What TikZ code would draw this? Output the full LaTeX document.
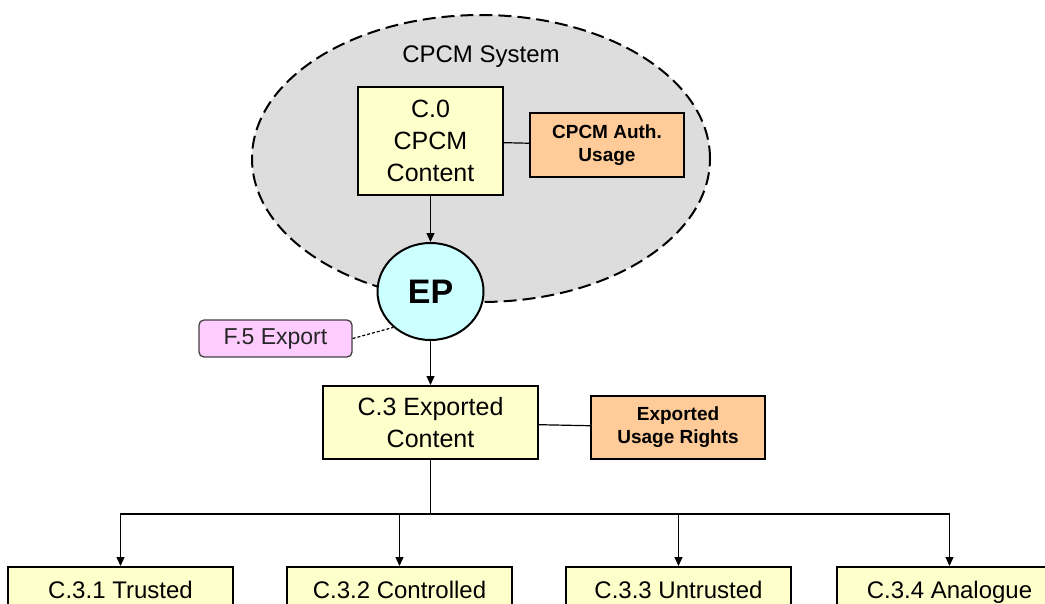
\documentclass[tikz,border=0pt]{standalone}
\usepackage{fontspec}
\setmainfont{Liberation Sans}
\usepackage{tikz}
\usetikzlibrary{arrows.meta,positioning,calc,shapes.geometric}
\definecolor{cpgrey}{HTML}{DDDDDD}
\definecolor{cpyellow}{HTML}{FFFFCC}
\definecolor{cporange}{HTML}{FFCC99}
\definecolor{cpcyan}{HTML}{CCFFFF}
\definecolor{cppink}{HTML}{FFCCFF}
\begin{document}
\begin{tikzpicture}[x=1pt,y=-1pt,
      box/.style={draw,line width=2pt,fill=cpyellow,align=center,inner sep=0pt,
                  font=\fontsize{25}{32}\selectfont},
      tag/.style={draw,line width=2pt,fill=cporange,align=center,inner sep=0pt,
                  font=\bfseries\fontsize{19}{23}\selectfont},
      leaf/.style={box,minimum width=225pt,minimum height=50pt,text height=17pt,
                   text depth=5pt,font=\fontsize{24}{28}\selectfont},
      link/.style={line width=1.2pt},
      arr/.style={link,-{Triangle[length=9pt,width=8pt]}}]
    \useasboundingbox (0,0) rectangle (1045,603);
    \clip (0,0) rectangle (1045,603);
    \node[ellipse,draw,line width=2pt,dash pattern=on 13pt off 6pt,fill=cpgrey,
          minimum width=458pt,minimum height=287pt] (sys) at (481,158.5) {};
    \node[below=32pt of sys.north,inner sep=0pt,font=\fontsize{24}{28}\selectfont] (title) {CPCM System};
    \node[box,minimum width=145pt,minimum height=108pt] (c0) at (430.5,141) {C.0\\CPCM\\Content};
    \node[tag,minimum width=154pt,minimum height=64pt,right=25pt of c0,yshift=-4pt] (auth) {CPCM Auth.\\Usage};
    \node[ellipse,draw,line width=2pt,fill=cpcyan,minimum width=106pt,minimum height=97pt,
          inner sep=0pt,font=\bfseries\fontsize{34}{40}\selectfont,below=46pt of c0] (ep) {EP};
    \node[draw=black!75,line width=1.3pt,rounded corners=5pt,fill=cppink,text=black!85,
          minimum width=153pt,minimum height=37pt,inner sep=0pt,
          font=\fontsize{23}{26}\selectfont] (f5) at (275.5,338.5) {F.5 Export};
    \node[box,minimum width=215pt,minimum height=73pt,below=44pt of ep] (c3) {C.3 Exported\\Content};
    \node[tag,minimum width=174pt,minimum height=63pt,right=51pt of c3,yshift=-5pt] (rights) {Exported\\Usage Rights};
    \node[leaf,below=106pt of c3,xshift=-31pt] (c32) {C.3.2 Controlled};
    \node[leaf,left=52pt of c32] (c31) {C.3.1 Trusted};
    \node[leaf,right=52pt of c32] (c33) {C.3.3 Untrusted};
    \node[leaf,right=44pt of c33] (c34) {C.3.4 Analogue};
    \coordinate[below=54pt of c3.south] (bus);
    \draw[arr] (c0) -- (ep); \draw[arr] (ep) -- (c3);
    \draw[link] (c0) -- (auth); \draw[link] (c3) -- (rights);
    \draw[link,dash pattern=on 3pt off 2pt] (f5.east) -- (ep.224);
    \draw[link] (c3) -- (bus);
    \foreach \k in {c31,c32,c33,c34} \draw[arr] (bus) -| (\k);
  \end{tikzpicture}
\end{document}
